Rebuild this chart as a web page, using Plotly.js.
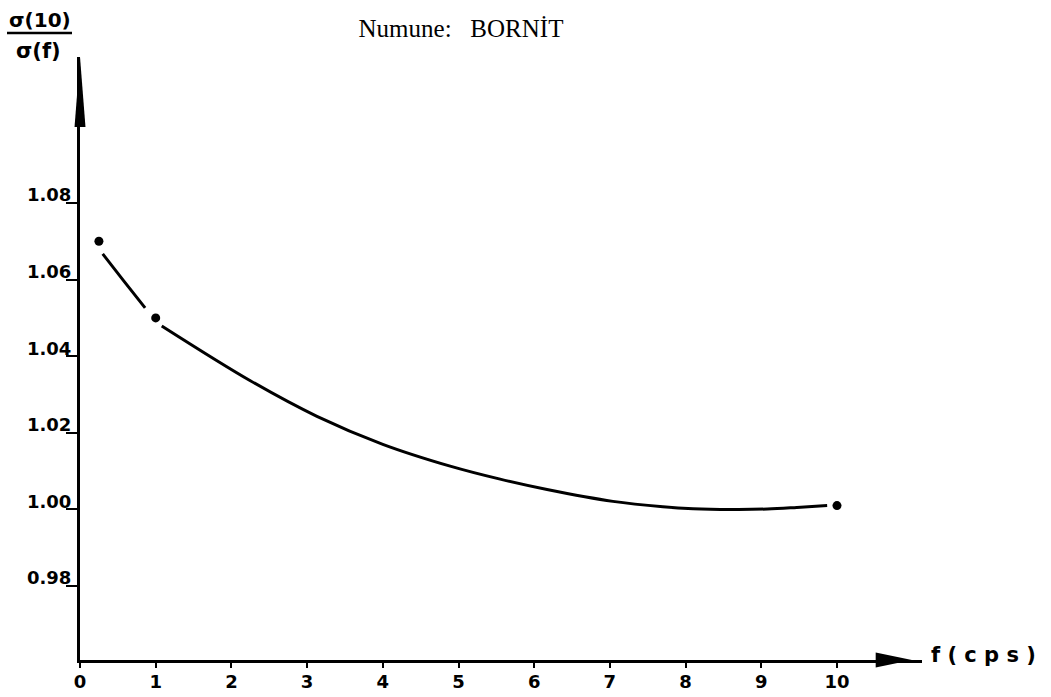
<!DOCTYPE html>
<html>
<head>
<meta charset="utf-8">
<script src="https://cdn.plot.ly/plotly-3.0.1.min.js"></script>
<style>html,body{margin:0;padding:0;background:#fff;}#chart{width:1051px;height:697px;}</style>
</head>
<body>
<div id="chart"></div>
<script>
// Measured points (dots)
const measFreq = [0.25, 1, 10];
const measRatio = [1.07, 1.05, 1.001];
// Fitted curve, segment between first and second dot
const curveAFreq = [0.30, 0.58, 0.86];
const curveARatio = [1.0667, 1.0596, 1.0526];
// Fitted curve, segment from second dot to last dot
const curveBFreq = [1.08, 2.25, 3.13, 4.0, 4.89, 5.55, 6.17, 7.04, 7.70, 8.10, 8.6, 9.08, 9.47, 9.87];
const curveBRatio = [1.0479, 1.0336, 1.0243, 1.0170, 1.0113, 1.0079, 1.0052, 1.0021, 1.0007, 1.0002, 1.0000, 1.0001, 1.0005, 1.0010];
// Tick labels
const xTickVals = [0, 1, 2, 3, 4, 5, 6, 7, 8, 9, 10];
const xTickText = ['0', '1', '2', '3', '4', '5', '6', '7', '8', '9', '10'];
const yTickVals = [0.98, 1.00, 1.02, 1.04, 1.06, 1.08];
const yTickText = ['0.98', '1.00', '1.02', '1.04', '1.06', '1.08'];
const titleText = 'Numune:\u00A0\u00A0\u00A0BORNİT';
const xLabel = 'f\u00A0(\u00A0c\u00A0p\u00A0s\u00A0)';
const yLabelTop = 'σ(10)';
const yLabelBottom = 'σ(f)';

const tickFont = {family: 'DejaVu Sans', size: 18, color: '#000', weight: 'bold'};

const traces = [
  {x: curveAFreq, y: curveARatio, mode: 'lines', line: {color: '#000', width: 3, shape: 'spline', smoothing: 1}, hoverinfo: 'skip'},
  {x: curveBFreq, y: curveBRatio, mode: 'lines', line: {color: '#000', width: 3, shape: 'spline', smoothing: 1}, hoverinfo: 'skip'},
  {x: measFreq, y: measRatio, mode: 'markers', marker: {color: '#000', size: 9}}
];

const layout = {
  width: 1051, height: 697,
  margin: {l: 80, r: 129, t: 57, b: 37},
  paper_bgcolor: '#fff', plot_bgcolor: '#fff',
  showlegend: false,
  title: {text: titleText, font: {family: 'Liberation Serif', size: 25, color: '#000'},
          xref: 'container', yref: 'container', x: 461/1051, xanchor: 'center', y: 1 - 28/697, yanchor: 'middle'},
  xaxis: {
    range: [0, 11.123], showgrid: false, zeroline: false,
    showline: true, linecolor: '#000', linewidth: 3,
    ticks: 'outside', ticklen: 5, tickwidth: 2, tickcolor: '#000',
    tickvals: xTickVals, ticktext: xTickText, tickfont: tickFont,
    ticklabelstandoff: -2
  },
  yaxis: {
    range: [0.96068, 1.11812], showgrid: false, zeroline: false,
    showline: true, linecolor: '#000', linewidth: 3,
    ticks: 'outside', ticklen: 11, tickwidth: 2, tickcolor: '#000',
    tickvals: yTickVals, ticktext: yTickText, tickfont: tickFont,
    ticklabelshift: -8, ticklabelstandoff: -9
  },
  shapes: [
    // y axis arrowhead
    {type: 'path', xref: 'paper', yref: 'paper', path: 'M -0.0065,0.884 L 0,1 L 0.0065,0.884 Z', fillcolor: '#000', line: {width: 0}},
    // x axis arrowhead
    {type: 'path', xref: 'paper', yref: 'paper', path: 'M 0.945,-0.0124 L 0.988,0 L 0.945,0.0124 Z', fillcolor: '#000', line: {width: 0}},
    // fraction bar of y label
    {type: 'line', xref: 'paper', yref: 'paper', x0: (7-80)/842, x1: (72-80)/842, y0: (660-33)/603, y1: (660-33)/603, line: {color: '#000', width: 2.5}}
  ],
  annotations: [
    {text: yLabelTop, xref: 'paper', yref: 'paper', x: (40-80)/842, y: (660-20)/603, xanchor: 'center', yanchor: 'middle', showarrow: false,
     font: {family: 'DejaVu Sans', size: 20, color: '#000', weight: 'bold'}},
    {text: yLabelBottom, xref: 'paper', yref: 'paper', x: (38-80)/842, y: (660-51)/603, xanchor: 'center', yanchor: 'middle', showarrow: false,
     font: {family: 'DejaVu Sans', size: 21, color: '#000', weight: 'bold'}},
    {text: xLabel, xref: 'paper', yref: 'paper', x: (929-80)/842, y: (660-655)/603, xanchor: 'left', yanchor: 'middle', showarrow: false,
     font: {family: 'DejaVu Sans', size: 21, color: '#000', weight: 'bold'}}
  ]
};

Plotly.newPlot('chart', traces, layout, {displayModeBar: false, staticPlot: true});
</script>
</body>
</html>
